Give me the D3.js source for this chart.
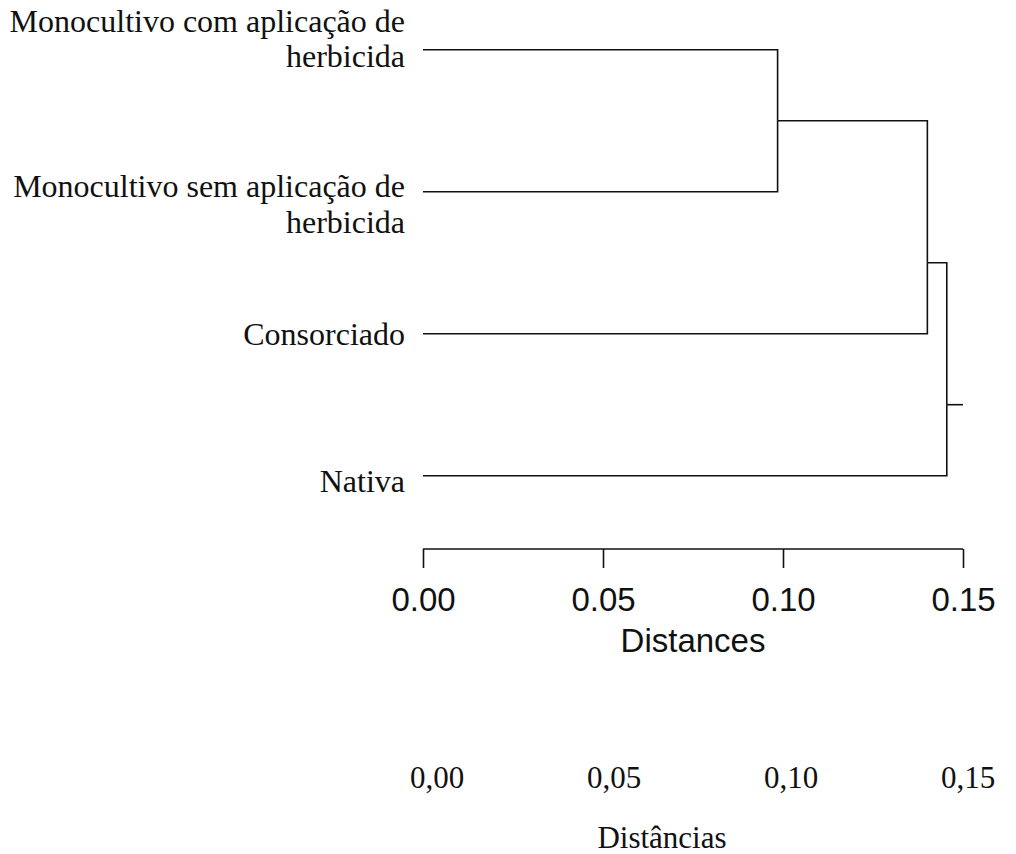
<!DOCTYPE html>
<html>
<head>
<meta charset="utf-8">
<script src="https://cdn.jsdelivr.net/npm/d3@7"></script>
<style>
  html, body { margin: 0; padding: 0; background: #fff; }
  svg { display: block; }
</style>
</head>
<body>
<svg id="chart" width="1016" height="854"></svg>
<script>
// Leaves in plotting order (top to bottom)
const leafLabels = [
  ["Monocultivo com aplicação de", "herbicida"],
  ["Monocultivo sem aplicação de", "herbicida"],
  ["Consorciado"],
  ["Nativa"]
];
// hclust-style merges: negative = leaf (1-based), positive = earlier merge
const mergePairs = [[-1, -2], [1, -3], [2, -4]];
const mergeHeights = [0.0985, 0.1401, 0.1455];

// Axis ticks and their labels
const tickValues = [0, 0.05, 0.10, 0.15];
const tickLabels = ["0.00", "0.05", "0.10", "0.15"];
const tickLabelsPt = ["0,00", "0,05", "0,10", "0,15"];
const axisTitle = "Distances";
const axisTitlePt = "Distâncias";

const svg = d3.select("#chart");
const ink = "#111";

const x = d3.scaleLinear().domain([0, 0.15]).range([423, 963]);
const y = d3.scaleLinear().domain([0, leafLabels.length - 1]).range([49.7, 475.7]);
const xPt = d3.scaleLinear().domain([0, 0.15]).range([437, 968]);

// Build a tree from the merge table
function buildNode(ref) {
  if (ref < 0) {
    const i = -ref - 1;
    return { leaf: i, height: 0, name: leafLabels[i] };
  }
  const [a, b] = mergePairs[ref - 1];
  return { height: mergeHeights[ref - 1], children: [buildNode(a), buildNode(b)] };
}
const root = d3.hierarchy(buildNode(mergePairs.length));

// Vertical position: leaves at their index; an internal node sits between
// the last leaf of its first child and the first leaf of its second child
root.eachAfter(n => {
  if (!n.children) {
    n.pos = n.data.leaf;
    n.lo = n.hi = n.pos;
  } else {
    const [a, b] = n.children;
    n.lo = a.lo;
    n.hi = b.hi;
    n.pos = (a.hi + b.lo) / 2;
  }
});

const g = svg.append("g")
  .attr("fill", "none")
  .attr("stroke", ink)
  .attr("stroke-width", 1.6);

// Elbow links: vertical at the parent's height, horizontal to the child
root.links().forEach(({ source, target }) => {
  g.append("path").attr("d",
    `M${x(source.data.height)},${y(source.pos)}` +
    `V${y(target.pos)}` +
    `H${x(target.data.height)}`);
});

// Root stub reaching the end of the distance scale
g.append("path").attr("d",
  `M${x(root.data.height)},${y(root.pos)}H${x(x.domain()[1])}`);

// Leaf labels, right-aligned to the left of the tree
const lineOffsets = [[-17.4, 17.3], [5, 41], [11], [16]];
root.leaves().forEach(leaf => {
  const t = svg.append("text")
    .attr("text-anchor", "end")
    .attr("font-family", "'Liberation Serif', 'Times New Roman', serif")
    .attr("font-size", 32)
    .attr("fill", ink);
  leaf.data.name.forEach((line, k) => {
    t.append("tspan")
      .attr("x", 405)
      .attr("y", y(leaf.pos) + lineOffsets[leaf.data.leaf][k])
      .text(line);
  });
});

// Distance axis (English)
const axis = svg.append("g")
  .attr("transform", "translate(0,549)")
  .call(d3.axisBottom(x).tickValues(tickValues)
    .tickFormat((d, i) => tickLabels[i]).tickSize(19).tickPadding(20));
axis.select(".domain").attr("stroke", ink).attr("stroke-width", 1.6)
  .attr("d", `M${x(0)},0H${x(0.15)}`);
axis.selectAll(".tick line").attr("stroke", ink).attr("stroke-width", 1.6);
axis.selectAll(".tick text")
  .attr("font-family", "'Liberation Sans', Arial, sans-serif")
  .attr("font-size", 33)
  .attr("fill", ink);

svg.append("text")
  .attr("x", (x(0) + x(0.15)) / 2)
  .attr("y", 652)
  .attr("text-anchor", "middle")
  .attr("font-family", "'Liberation Sans', Arial, sans-serif")
  .attr("font-size", 33)
  .attr("fill", ink)
  .text(axisTitle);

// Distance labels (Portuguese)
svg.append("g").selectAll("text")
  .data(tickValues)
  .join("text")
  .attr("x", d => xPt(d))
  .attr("y", 788)
  .attr("text-anchor", "middle")
  .attr("font-family", "'Liberation Serif', 'Times New Roman', serif")
  .attr("font-size", 31)
  .attr("fill", ink)
  .text((d, i) => tickLabelsPt[i]);

svg.append("text")
  .attr("x", 662)
  .attr("y", 848)
  .attr("text-anchor", "middle")
  .attr("font-family", "'Liberation Serif', 'Times New Roman', serif")
  .attr("font-size", 31)
  .attr("fill", ink)
  .text(axisTitlePt);
</script>
</body>
</html>
